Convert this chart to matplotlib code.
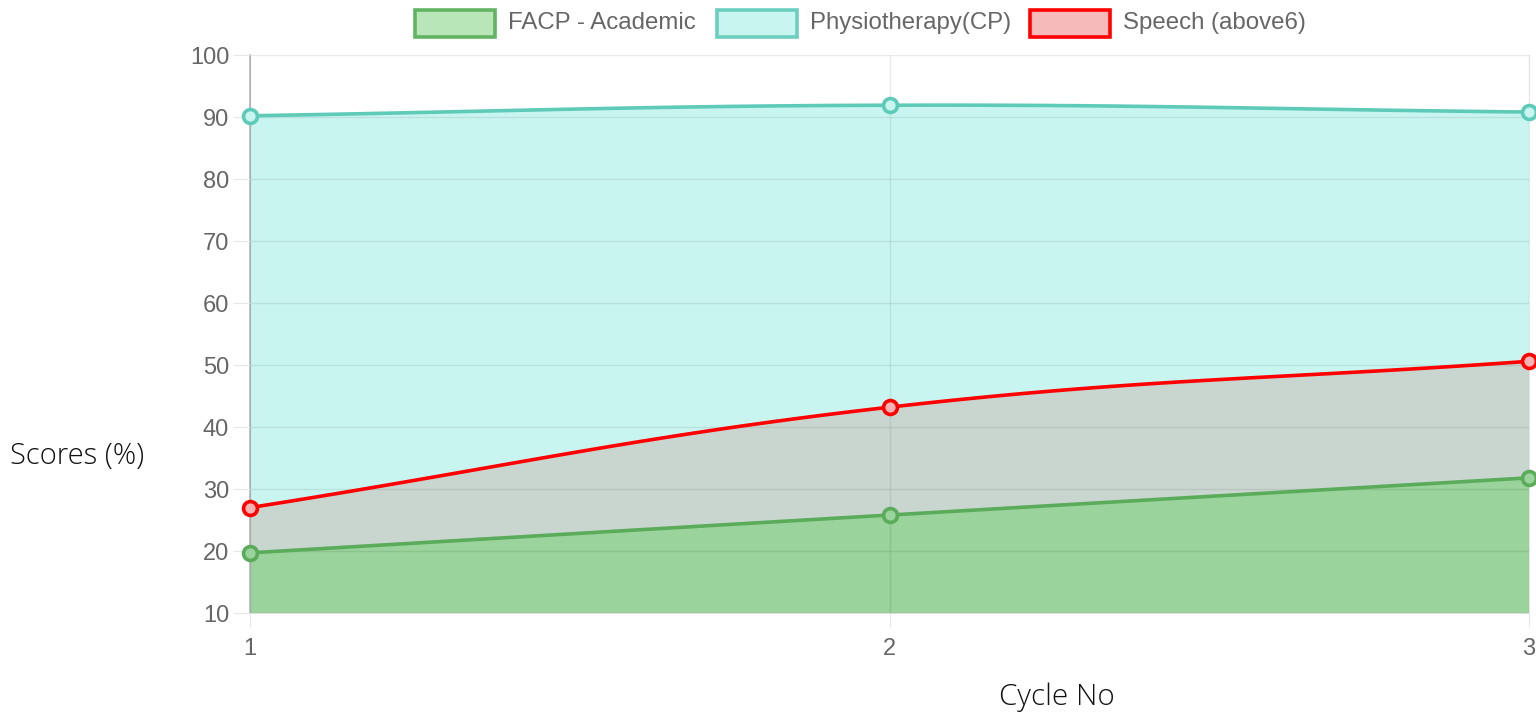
import numpy as np
import matplotlib
matplotlib.use("Agg")
import matplotlib.pyplot as plt
from matplotlib.patches import Rectangle

cycles = [1, 2, 3]
facp = [19.7, 25.8, 31.8]
physio = [90.2, 91.9, 90.8]
speech = [27.0, 43.2, 50.6]
series_names = ["FACP - Academic", "Physiotherapy(CP)", "Speech (above6)"]
y_ticks = [10, 20, 30, 40, 50, 60, 70, 80, 90, 100]

W, H = 1536, 722
fig = plt.figure(figsize=(W / 100, H / 100), dpi=100)
L, R, T, B = 250, 1529, 55, 613
ax = fig.add_axes([L / W, 1 - B / H, (R - L) / W, (B - T) / H])
ax.set_xlim(1, 3)
ax.set_ylim(10, 100)

# pixel scale for Chart.js-like spline control points
sx = (R - L) / 2.0
sy = (B - T) / 90.0


def chartjs_spline(xs, ys, tension=0.4, n=60):
    px = np.array(xs, float) * sx
    py = np.array(ys, float) * sy
    m = len(px)
    cps = []
    for i in range(m):
        p0 = (px[max(i - 1, 0)], py[max(i - 1, 0)])
        p1 = (px[i], py[i])
        p2 = (px[min(i + 1, m - 1)], py[min(i + 1, m - 1)])
        d01 = np.hypot(p1[0] - p0[0], p1[1] - p0[1])
        d12 = np.hypot(p2[0] - p1[0], p2[1] - p1[1])
        s01 = d01 / (d01 + d12) if d01 + d12 else 0
        s12 = d12 / (d01 + d12) if d01 + d12 else 0
        fa, fb = tension * s01, tension * s12
        prev = (p1[0] - fa * (p2[0] - p0[0]), p1[1] - fa * (p2[1] - p0[1]))
        nxt = (p1[0] + fb * (p2[0] - p0[0]), p1[1] + fb * (p2[1] - p0[1]))
        cps.append((prev, nxt))
    X, Y = [], []
    t = np.linspace(0, 1, n)
    for i in range(m - 1):
        P0 = np.array([px[i], py[i]])
        P1 = np.array(cps[i][1])
        P2 = np.array(cps[i + 1][0])
        P3 = np.array([px[i + 1], py[i + 1]])
        pts = ((1 - t)[:, None] ** 3 * P0 + 3 * ((1 - t) ** 2 * t)[:, None] * P1
               + 3 * ((1 - t) * t ** 2)[:, None] * P2 + (t ** 3)[:, None] * P3)
        X.extend(pts[:, 0])
        Y.extend(pts[:, 1])
    return np.array(X) / sx, np.array(Y) / sy


grid_x = np.linspace(1, 3, 800)
curves = {}
for name, vals in zip(series_names, [facp, physio, speech]):
    cx, cy = chartjs_spline(cycles, vals)
    order = np.argsort(cx)
    curves[name] = (cx, cy, np.interp(grid_x, cx[order], cy[order]))

g_f = curves[series_names[0]][2]
g_p = curves[series_names[1]][2]
g_s = curves[series_names[2]][2]

fill_cyan = "#c9f5f0"
fill_gray = "#c9d6d0"
fill_green = "#9ad39c"
ax.fill_between(grid_x, g_s, g_p, color=fill_cyan, lw=0, zorder=1)
ax.fill_between(grid_x, g_f, g_s, color=fill_gray, lw=0, zorder=1)
ax.fill_between(grid_x, 10, g_f, color=fill_green, lw=0, zorder=1)

line_cols = ["#5aac5a", "#5ecab8", "#ff0000"]
marker_fc = [fill_green, fill_cyan, "#f4b4b4"]
for name, vals, lc, mfc in zip(series_names, [facp, physio, speech], line_cols, marker_fc):
    cx, cy, _ = curves[name]
    ax.plot(cx, cy, color=lc, lw=2.6, zorder=3, solid_capstyle="round")
    ax.plot(cycles, vals, "o", ms=10, mfc=mfc, mec=lc, mew=2.6, zorder=4, clip_on=False)

ax.set_axisbelow(False)
ax.set_yticks(y_ticks)
ax.set_xticks(cycles)
ax.set_xticklabels([str(c) for c in cycles])
ax.grid(True, color="#000000", alpha=0.08, lw=1)
ax.spines["top"].set_visible(False)
ax.spines["left"].set_color("#b5b5b5")
ax.spines["left"].set_linewidth(1.2)
ax.spines["bottom"].set_color("#dddddd")
ax.spines["right"].set_color("#e6e6e6")
ax.tick_params(axis="y", length=12, color="#e6e6e6", pad=3, labelsize=17, labelcolor="#666666")
ax.tick_params(axis="x", length=10, color="#e6e6e6", pad=8, labelsize=17, labelcolor="#666666")
for lab in ax.get_xticklabels() + ax.get_yticklabels():
    lab.set_fontfamily("Liberation Sans")
xl = ax.get_xticklabels()
xl[0].set_horizontalalignment("center")
xl[-1].set_horizontalalignment("center")

fig.text(10 / W, 1 - 456 / H, "Scores (%)", fontsize=21, fontfamily="Open Sans",
         fontweight="light", color="#111111", ha="left", va="center")
fig.text(1057 / W, 1 - 697 / H, "Cycle No", fontsize=21.3, fontfamily="Open Sans",
         fontweight="light", color="#111111", ha="center", va="center")

# legend
leg_fill = ["#b9e6b9", "#c8f5ef", "#f7baba"]
leg_edge = ["#62b462", "#6bcfbf", "#ff0000"]
box_x = [415, 717, 1030]
for name, bx, fc, ec in zip(series_names, box_x, leg_fill, leg_edge):
    fig.patches.append(Rectangle((bx / W, 1 - 37 / H), 80 / W, 27 / H, transform=fig.transFigure,
                                 facecolor=fc, edgecolor=ec, lw=2.6))
    fig.text((bx + 93) / W, 1 - 23 / H, name, fontsize=17.3, fontfamily="Liberation Sans",
             color="#666666", ha="left", va="center")

fig.savefig("out.png", dpi=100)
